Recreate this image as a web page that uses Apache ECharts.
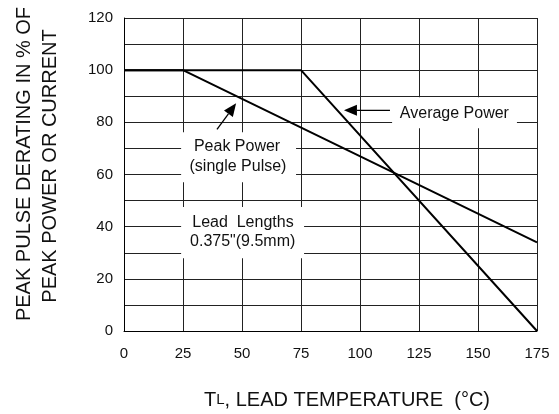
<!DOCTYPE html>
<html>
<head>
<meta charset="utf-8">
<script src="https://cdn.jsdelivr.net/npm/echarts@6/dist/echarts.min.js"></script>
<style>
  html, body { margin: 0; padding: 0; background: #fff; }
  #main { width: 559px; height: 414px; }
</style>
</head>
<body>
<div id="main"></div>
<script>
// derating curves
var peakPower = [[0, 100], [25, 100], [175, 34]];
var averagePower = [[0, 100], [75, 100], [175, 0]];
var xTicks = [0, 25, 50, 75, 100, 125, 150, 175];
var yTicks = [0, 20, 40, 60, 80, 100, 120];

var FONT = 'Liberation Sans, Arial, sans-serif';

var chart = echarts.init(document.getElementById('main'));

var option = {
  backgroundColor: '#fff',
  animation: false,
  grid: { left: 124, right: 22, top: 18, bottom: 83 },
  xAxis: {
    type: 'value',
    min: 0, max: 175, interval: 25,
    axisLine: { show: true, lineStyle: { color: '#000', width: 1 } },
    axisTick: { show: false },
    axisLabel: {
      margin: 15, color: '#111', fontSize: 15, fontFamily: FONT,
      formatter: function (v) { return xTicks.indexOf(v) >= 0 ? v : ''; }
    },
    splitLine: { show: true, lineStyle: { color: '#222', width: 1 } }
  },
  yAxis: {
    type: 'value',
    min: 0, max: 120, interval: 10,
    axisLine: { show: true, lineStyle: { color: '#000', width: 1 } },
    axisTick: { show: false },
    axisLabel: {
      margin: 11, color: '#111', fontSize: 15, fontFamily: FONT,
      formatter: function (v) { return yTicks.indexOf(v) >= 0 ? v : ''; }
    },
    splitLine: { show: true, lineStyle: { color: '#222', width: 1 } }
  },
  series: [
    {
      name: 'Peak Power', type: 'line', data: peakPower,
      symbol: 'none', z: 5,
      lineStyle: { color: '#000', width: 2 }
    },
    {
      name: 'Average Power', type: 'line', data: averagePower,
      symbol: 'none', z: 5,
      lineStyle: { color: '#000', width: 2 }
    }
  ]
};
chart.setOption(option);

// annotation anchors in data units
var boxes = [
  { x0: 113.6, x1: 166.5, y0: 89.6, y1: 77.7,
    lines: [{ text: 'Average Power', x: 140, y: 83.4 }] },
  { x0: 24.2, x1: 72.9, y0: 76.2, y1: 57.0,
    lines: [{ text: 'Peak Power', x: 47.9, y: 70.8 }, { text: '(single Pulse)', x: 48.3, y: 63.2 }] },
  { x0: 24.2, x1: 76.3, y0: 47.5, y1: 27.9,
    lines: [{ text: 'Lead  Lengths', x: 50.4, y: 41.7 }, { text: '0.375"(9.5mm)', x: 50.3, y: 34.1 }] }
];
var arrows = [
  { from: [112.7, 84.6], to: [93.2, 84.6] },
  { from: [39.4, 77.3], to: [47.5, 87.3] }
];

function px(p) { return chart.convertToPixel({ gridIndex: 0 }, p); }

var graphics = [];
boxes.forEach(function (b) {
  var a = px([b.x0, b.y0]), c = px([b.x1, b.y1]);
  graphics.push({
    type: 'rect', z: 10,
    shape: { x: a[0], y: a[1], width: c[0] - a[0], height: c[1] - a[1] },
    style: { fill: '#fff' }
  });
  b.lines.forEach(function (l) {
    var p = px([l.x, l.y]);
    graphics.push({
      type: 'text', z: 11,
      style: {
        text: l.text, x: p[0], y: p[1], fill: '#111',
        font: '16px ' + FONT, textAlign: 'center', textVerticalAlign: 'middle'
      }
    });
  });
});

arrows.forEach(function (ar) {
  var s = px(ar.from), t = px(ar.to);
  var dx = t[0] - s[0], dy = t[1] - s[1];
  var len = Math.sqrt(dx * dx + dy * dy);
  var ux = dx / len, uy = dy / len;
  var hl = 13, hw = 5.5;
  var bx = t[0] - ux * hl, by = t[1] - uy * hl;
  graphics.push({
    type: 'line', z: 12,
    shape: { x1: s[0], y1: s[1], x2: bx, y2: by },
    style: { stroke: '#000', lineWidth: 1.3 }
  });
  graphics.push({
    type: 'polygon', z: 12,
    shape: { points: [[t[0], t[1]], [bx - uy * hw, by + ux * hw], [bx + uy * hw, by - ux * hw]] },
    style: { fill: '#000' }
  });
});

// axis titles
graphics.push({
  type: 'text', z: 11,
  style: {
    x: 347, y: 399, textAlign: 'center', textVerticalAlign: 'middle',
    text: '{a|T}{b|L}{a|, LEAD TEMPERATURE  (°C)}',
    rich: {
      a: { fontSize: 20, fontFamily: FONT, fill: '#111', verticalAlign: 'bottom', lineHeight: 22 },
      b: { fontSize: 15, fontFamily: FONT, fill: '#111', verticalAlign: 'bottom', lineHeight: 15, padding: [0, 0, 3, 0] }
    }
  }
});
graphics.push({
  type: 'text', z: 11, x: 24, y: 164, rotation: Math.PI / 2,
  style: {
    x: 0, y: 0, text: 'PEAK PULSE DERATING IN % OF', fill: '#111',
    font: '20px ' + FONT, textAlign: 'center', textVerticalAlign: 'middle'
  }
});
graphics.push({
  type: 'text', z: 11, x: 50, y: 166, rotation: Math.PI / 2,
  style: {
    x: 0, y: 0, text: 'PEAK POWER OR CURRENT', fill: '#111',
    font: '20px ' + FONT, textAlign: 'center', textVerticalAlign: 'middle'
  }
});

chart.setOption({ graphic: { elements: graphics } });
</script>
</body>
</html>
